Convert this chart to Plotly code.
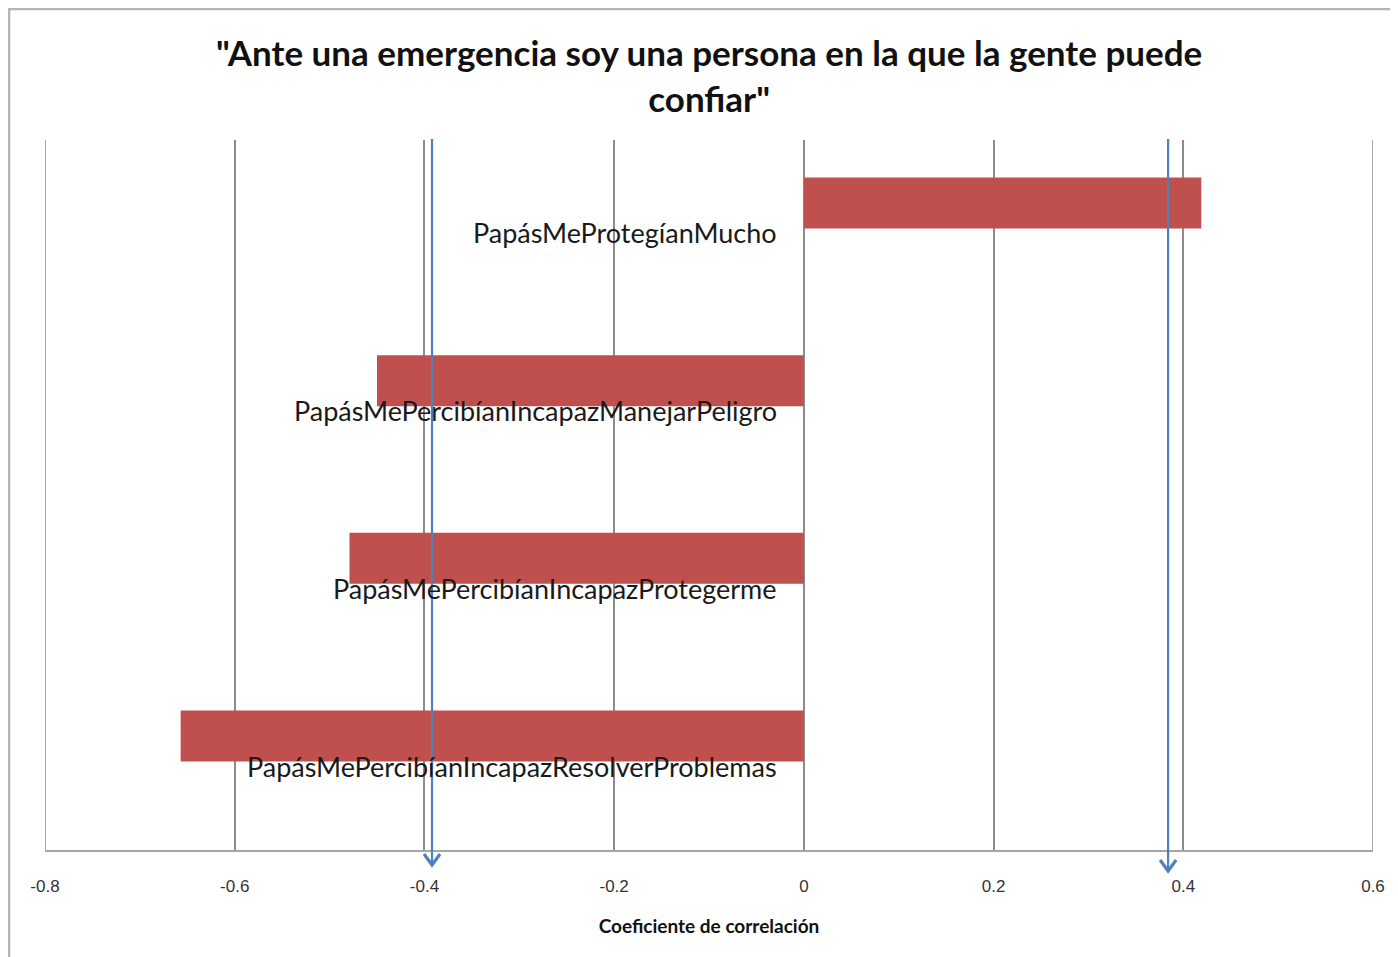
import plotly.graph_objects as go

# Data
categories = [
    "PapásMeProtegíanMucho",
    "PapásMePercibíanIncapazManejarPeligro",
    "PapásMePercibíanIncapazProtegerme",
    "PapásMePercibíanIncapazResolverProblemas",
]
values = [0.419, -0.450, -0.479, -0.657]
arrow_x = [-0.392, 0.384]
arrow_tip_px = [865, 871]  # viewport pixel y of arrow tips
x_ticks = [-0.8, -0.6, -0.4, -0.2, 0, 0.2, 0.4, 0.6]
x_ticktext = ["-0.8", "-0.6", "-0.4", "-0.2", "0", "0.2", "0.4", "0.6"]
title_text = '"Ante una emergencia soy una persona en la que la gente puede<br>confiar"'
x_title = "Coeficiente de correlación"

OFF = 8  # page body margin
W, H = 1398 - OFF, 957 - OFF
PL, PR, PT, PB = 45, 1373, 140, 850  # plot area in viewport pixels
L, R, T, B = PL - OFF, 1398 - PR, PT - OFF, 957 - PB
PW, PH = PR - PL, PB - PT
FONT = "Lato, Carlito, Open Sans, sans-serif"
TICKFONT = "Liberation Sans, Arial, sans-serif"

fig = go.Figure()
ypos = list(range(len(categories)))
fig.add_trace(go.Bar(
    x=values, y=ypos, orientation="h", width=0.287,
    marker=dict(color="#C0504D", line=dict(width=0)),
    hoverinfo="x", showlegend=False,
))

ann = []
for yi, c in zip(ypos, categories):
    ann.append(dict(x=0, y=yi, xref="x", yref="y", text=c, showarrow=False,
                    xanchor="right", yanchor="middle", xshift=-25, yshift=-30,
                    font=dict(family=FONT, size=27, color="#1a1a1a")))
ann.append(dict(x=0.5, xref="paper", y=1 + 65.5 / PH, yref="paper", text=title_text,
                showarrow=False, xanchor="center", yanchor="middle",
                font=dict(family=FONT, size=35, color="#111111", weight="bold")))

shapes = []
# chart border (left and top edges visible)
shapes.append(dict(type="line", xref="paper", yref="paper",
                   x0=(OFF + 0.8 - PL) / PW, x1=(OFF + 0.8 - PL) / PW,
                   y0=-(957 - PB + 20) / PH, y1=1 + (PT - OFF - 0.8) / PH,
                   line=dict(color="#B5B5B5", width=3)))
shapes.append(dict(type="line", xref="paper", yref="paper",
                   x0=(OFF - PL) / PW, x1=(1420 - PL) / PW,
                   y0=1 + (PT - OFF - 0.8) / PH, y1=1 + (PT - OFF - 0.8) / PH,
                   line=dict(color="#B5B5B5", width=3)))
# edge gridlines
for gx in (x_ticks[0], x_ticks[-1]):
    shapes.append(dict(type="line", xref="x", yref="paper", x0=gx, x1=gx, y0=0, y1=1,
                       line=dict(color="#8C8C8C", width=1.5)))
sx = 8 / 948.0
for ax_, tip in zip(arrow_x, arrow_tip_px):
    ytip = (PB - tip) / PH
    ytop = (PB - 139) / PH
    hh = 11 / PH
    shapes.append(dict(type="line", xref="x", yref="paper", x0=ax_, x1=ax_, y0=ytop, y1=ytip + 0.002,
                       line=dict(color="#4F81BD", width=2.2)))
    shapes.append(dict(type="path", xref="x", yref="paper",
                       path=f"M {ax_ - sx},{ytip + hh} L {ax_},{ytip} L {ax_ + sx},{ytip + hh}",
                       line=dict(color="#4F81BD", width=3.2)))

fig.update_layout(
    width=W, height=H,
    margin=dict(l=L, r=R, t=T, b=B),
    paper_bgcolor="white", plot_bgcolor="white",
    annotations=ann, shapes=shapes,
    font=dict(family=FONT),
)
fig.update_xaxes(
    range=[-0.8, 0.6], tickvals=x_ticks, ticktext=x_ticktext,
    showgrid=True, gridcolor="#8C8C8C", gridwidth=1.5,
    zeroline=True, zerolinecolor="#8C8C8C", zerolinewidth=1.5,
    showline=True, linecolor="#A6A6A6", linewidth=2,
    ticks="", ticklabelstandoff=20,
    tickfont=dict(family=TICKFONT, size=17, color="#333333"),
    title=dict(text=x_title, standoff=24,
               font=dict(family=FONT, size=19, color="#111111", weight="bold")),
)
fig.update_yaxes(
    range=[3.641, -0.354], showticklabels=False, showgrid=False, zeroline=False,
    showline=False,
)

fig.write_html("out.html")
